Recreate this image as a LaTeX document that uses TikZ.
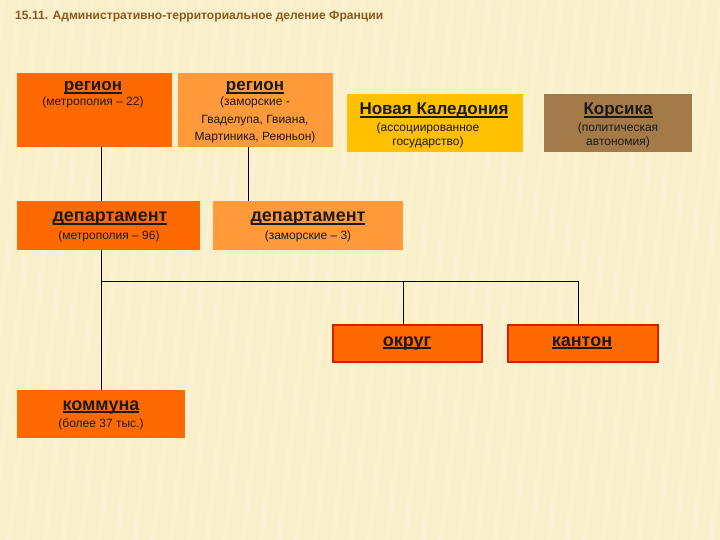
\documentclass[tikz,border=0pt]{standalone}
\usepackage{fontspec}
\setmainfont{Liberation Sans}
\usepackage{graphicx}
\definecolor{bgc}{HTML}{FAEFCB}
\definecolor{bgl}{HTML}{FDF6DE}
\definecolor{dorange}{HTML}{FF6A00}
\definecolor{lorange}{HTML}{FF9A3A}
\definecolor{gold}{HTML}{FFC000}
\definecolor{corsb}{HTML}{A47A48}
\definecolor{redb}{HTML}{D02000}
\definecolor{titlec}{HTML}{8C5A1E}
\definecolor{txt}{HTML}{1A1A1A}
\tikzset{
  box/.style={rectangle, inner sep=0pt, outer sep=0pt, anchor=north west},
  darkbox/.style={box, fill=dorange},
  lightbox/.style={box, fill=lorange},
  goldbox/.style={box, fill=gold},
  brownbox/.style={box, fill=corsb},
  redbox/.style={box, fill=dorange, draw=redb, line width=1.6pt},
  head/.style={inner sep=0pt, anchor=base, text=txt, font=\fontsize{18}{20}\selectfont\bfseries},
  headr/.style={inner sep=0pt, anchor=base, text=txt, font=\fontsize{17}{19}\selectfont\bfseries},
  sub/.style={inner sep=0pt, anchor=base, text=txt, align=center, font=\fontsize{12}{17.5}\selectfont},
  subn/.style={sub, font=\fontsize{12}{14}\selectfont},
  conn/.style={draw=black, line width=0.9pt}
}
\newcommand{\ul}[1]{\setbox0\hbox{#1}\rlap{\rule[-2.6pt]{\wd0}{1.2pt}}\box0}
\begin{document}
\begin{tikzpicture}[x=1pt,y=-1pt]
\useasboundingbox (0,0) rectangle (720,540);
\begin{scope}
\clip (0,0) rectangle (720,540);
\fill[bgc] (0,0) rectangle (720,540);
\foreach \i in {0,...,44}{
  \fill[bgl, opacity=0.35] (\i*18,0) -- (\i*18+6,0) -- (\i*18-60,540) -- (\i*18-66,540) -- cycle;
}
\end{scope}

\node[anchor=west, inner sep=0pt, text=titlec] (title) at (15,17)
  {\resizebox{368pt}{!}{\fontsize{11}{13}\selectfont\bfseries 15.11. Административно-территориальное деление Франции}};

% boxes
\node[darkbox, minimum width=155pt, minimum height=74pt] (r1) at (17,73) {};
\node[lightbox, minimum width=155pt, minimum height=74pt] (r2) at (178,73) {};
\node[goldbox, minimum width=176pt, minimum height=58pt] (nc) at (347,94) {};
\node[brownbox, minimum width=148pt, minimum height=58pt] (co) at (544,94) {};
\node[darkbox, minimum width=183pt, minimum height=49pt] (d1) at (17,201) {};
\node[lightbox, minimum width=190pt, minimum height=49pt] (d2) at (213,201) {};
\node[redbox, minimum width=149pt, minimum height=37pt] (ok) at (333,325) {};
\node[redbox, minimum width=150pt, minimum height=37pt] (ka) at (508,325) {};
\node[darkbox, minimum width=168pt, minimum height=48pt] (km) at (17,390) {};

% texts
\node[head, font=\fontsize{17}{19}\selectfont\bfseries] (r1t) at (93,91) {\ul{регион}};
\node[sub] (r1s) at (93,106) {(метрополия – 22)};
\node[head, font=\fontsize{17}{19}\selectfont\bfseries] (r2t) at (255,91) {\ul{регион}};
\node[sub, anchor=north] (r2s) at (255,97) {(заморские -\\Гваделупа, Гвиана,\\Мартиника, Реюньон)};
\node[headr] (nct) at (434,115) {\ul{Новая Каледония}};
\node[subn, anchor=north] (ncs) at (428,123) {(ассоциированное\\государство)};
\node[headr] (cot) at (618,115) {\ul{Корсика}};
\node[subn, anchor=north] (cos) at (618,123) {(политическая\\автономия)};
\node[head] (d1t) at (110,222) {\ul{департамент}};
\node[sub] (d1s) at (109,240) {(метрополия – 96)};
\node[head] (d2t) at (308,222) {\ul{департамент}};
\node[sub] (d2s) at (308,240) {(заморские  – 3)};
\node[head] (okt) at (407,346) {\ul{округ}};
\node[head] (kat) at (582,346) {\ul{кантон}};
\node[head] (kmt) at (101,410) {\ul{коммуна}};
\node[sub] (kms) at (101,427) {(более 37 тыс.)};

% connectors
\coordinate (xa) at (101,0);
\coordinate (xb) at (248,0);
\coordinate (xc) at (403,0);
\coordinate (xd) at (578,0);
\coordinate (yh) at (0,281);
\draw[conn] (r1.south -| xa) -- (d1.north -| xa);
\draw[conn] (r2.south -| xb) -- (d2.north -| xb);
\draw[conn] (d1.south -| xa) -- (km.north -| xa);
\draw[conn] (yh -| xa) -- (yh -| xd) -- (ka.north -| xd);
\draw[conn] (yh -| xc) -- (ok.north -| xc);
\end{tikzpicture}
\end{document}
